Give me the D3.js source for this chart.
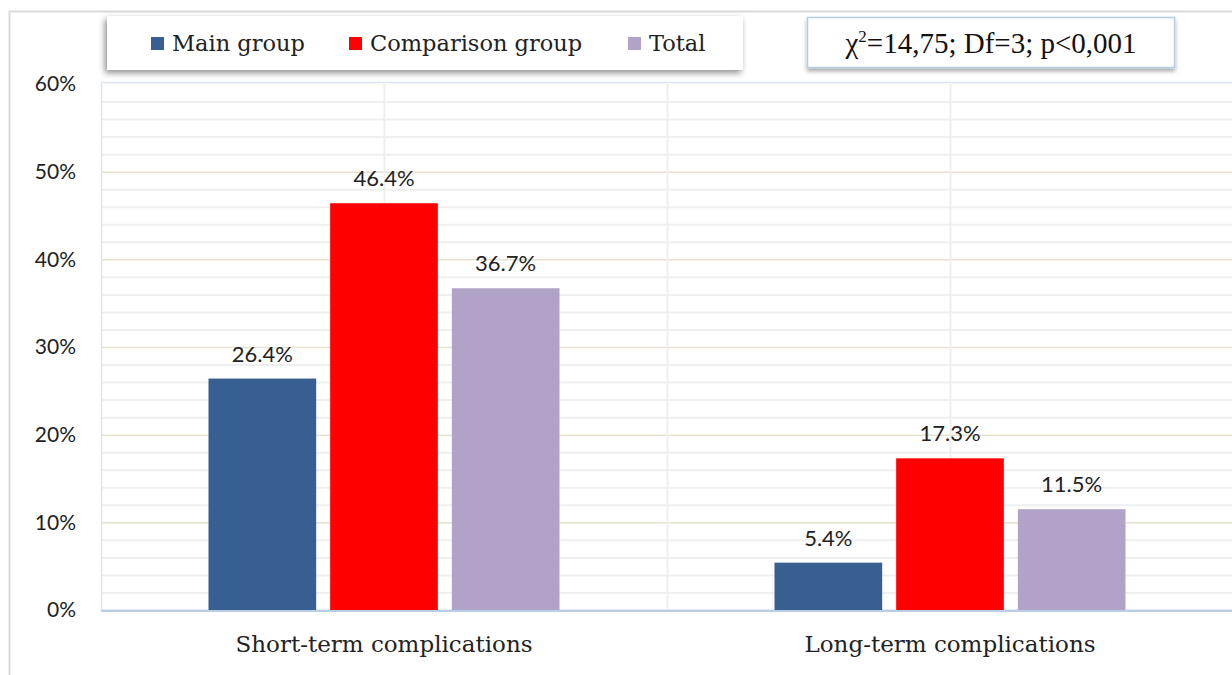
<!DOCTYPE html>
<html>
<head>
<meta charset="utf-8">
<script src="https://cdn.jsdelivr.net/npm/d3@7"></script>
<style>
  html, body { margin: 0; padding: 0; background: #fff; }
  svg { display: block; }
</style>
</head>
<body>
<svg id="chart" width="1232" height="675"></svg>
<script>
const categories = ["Short-term complications", "Long-term complications"];
const seriesNames = ["Main group", "Comparison group", "Total"];
const mainGroup = [26.4, 5.4];
const comparisonGroup = [46.4, 17.3];
const total = [36.7, 11.5];
const yTicks = [0, 10, 20, 30, 40, 50, 60];
const statText = "=14,75; Df=3; p<0,001";

const colors = ["#375f91", "#ff0000", "#b1a3c8"];
const series = [mainGroup, comparisonGroup, total];

const svg = d3.select("#chart");
const W = 1232, H = 675;
const plot = { left: 101, right: 1233, top: 84, bottom: 610 };

const defs = svg.append("defs");
const sh = defs.append("filter").attr("id", "shadow").attr("x", "-10%").attr("y", "-30%").attr("width", "120%").attr("height", "170%");
sh.append("feDropShadow").attr("dx", -2).attr("dy", 3).attr("stdDeviation", 3).attr("flood-color", "#000").attr("flood-opacity", 0.45);
const sh2 = defs.append("filter").attr("id", "shadow2").attr("x", "-10%").attr("y", "-30%").attr("width", "120%").attr("height", "170%");
sh2.append("feDropShadow").attr("dx", 0).attr("dy", 3).attr("stdDeviation", 2).attr("flood-color", "#000").attr("flood-opacity", 0.35);

// Outer frame
svg.append("rect").attr("x", 9.5).attr("y", 11.5).attr("width", W).attr("height", H)
  .attr("fill", "none").attr("stroke", "#d9d9d9").attr("stroke-width", 2);

const y = d3.scaleLinear().domain([0, 60]).range([plot.bottom, plot.top]);
const x0 = d3.scaleBand().domain(categories).range([plot.left, plot.right]).padding(0);
const x1 = d3.scaleBand().domain(seriesNames).range([0, 351]).paddingInner(0.115);

// Minor gridlines every 2%
const minor = d3.range(2, 60, 2).filter(v => v % 10 !== 0);
svg.append("g").selectAll("line").data(minor).join("line")
  .attr("x1", plot.left).attr("x2", plot.right)
  .attr("y1", d => y(d) + 0.5).attr("y2", d => y(d) + 0.5)
  .attr("stroke", "#efefef").attr("stroke-width", 2);

// Major gridlines every 10%
svg.append("g").selectAll("line").data(yTicks.filter(v => v > 0 && v < 60)).join("line")
  .attr("x1", plot.left).attr("x2", plot.right)
  .attr("y1", d => y(d) + 0.5).attr("y2", d => y(d) + 0.5)
  .attr("stroke", "#e6e2cf").attr("stroke-width", 1.5);

// Vertical gridlines at band centers and boundaries
const vlines = [];
categories.forEach(c => { vlines.push(x0(c) + x0.bandwidth() / 2); });
vlines.push(x0(categories[1]));
svg.append("g").selectAll("line").data(vlines).join("line")
  .attr("x1", d => d + 0.5).attr("x2", d => d + 0.5)
  .attr("y1", plot.top).attr("y2", plot.bottom)
  .attr("stroke", "#efefef").attr("stroke-width", 2);

// Plot area border
svg.append("rect").attr("x", plot.left + 0.5).attr("y", plot.top - 1.5)
  .attr("width", plot.right - plot.left).attr("height", plot.bottom - plot.top + 1.5)
  .attr("fill", "none").attr("stroke", "#dbe4f0").attr("stroke-width", 1.5);

// Bars
const barGroups = svg.append("g").selectAll("g").data(categories).join("g")
  .attr("transform", c => `translate(${x0(c) + (x0.bandwidth() - 351) / 2},0)`);

barGroups.selectAll("rect").data((c, i) => seriesNames.map((s, j) => ({ s, v: series[j][i], j })))
  .join("rect")
  .attr("x", d => x1(d.s)).attr("width", x1.bandwidth())
  .attr("y", d => y(d.v)).attr("height", d => y(0) - y(d.v))
  .attr("fill", d => colors[d.j]);

barGroups.selectAll("text").data((c, i) => seriesNames.map((s, j) => ({ s, v: series[j][i], j })))
  .join("text")
  .attr("x", d => x1(d.s) + x1.bandwidth() / 2)
  .attr("y", d => y(d.v) - 17)
  .attr("text-anchor", "middle")
  .attr("font-family", "Lato, 'Open Sans', sans-serif")
  .attr("font-size", 22).attr("fill", "#222")
  .text(d => d.v.toFixed(1) + "%");

// Baseline axis
svg.append("line").attr("x1", plot.left).attr("x2", plot.right)
  .attr("y1", plot.bottom + 1).attr("y2", plot.bottom + 1)
  .attr("stroke", "#b9cde5").attr("stroke-width", 2);

// Y axis labels
const yAxis = d3.axisLeft(y).tickValues(yTicks).tickSize(0).tickPadding(0).tickFormat(d => d + "%");
const yg = svg.append("g").attr("transform", `translate(76,0)`).call(yAxis);
yg.select(".domain").remove();
yg.selectAll("text").attr("font-family", "Lato, 'Open Sans', sans-serif").attr("font-size", 21).attr("fill", "#222");

// X axis labels
const xAxis = d3.axisBottom(x0).tickSize(0).tickPadding(0);
const xg = svg.append("g").attr("transform", `translate(0,${plot.bottom + 26})`).call(xAxis);
xg.select(".domain").remove();
xg.selectAll("text").attr("font-family", "'DejaVu Serif', serif").attr("font-size", 23).attr("fill", "#222");

// Legend
const legend = svg.append("g");
legend.append("rect").attr("x", 107).attr("y", 16).attr("width", 636).attr("height", 54)
  .attr("fill", "#fff").attr("filter", "url(#shadow)");
const legendX = [151, 349, 628];
const li = legend.selectAll("g.item").data(seriesNames).join("g").attr("class", "item")
  .attr("transform", (d, i) => `translate(${legendX[i]},0)`);
li.append("rect").attr("x", 0).attr("y", 37).attr("width", 13).attr("height", 13)
  .attr("fill", (d, i) => colors[i]);
li.append("text").attr("x", 21).attr("y", 51)
  .attr("font-family", "'DejaVu Serif', serif").attr("font-size", 22.5).attr("fill", "#222")
  .text(d => d);

// Statistic box
const stat = svg.append("g");
stat.append("rect").attr("x", 807.5).attr("y", 17.5).attr("width", 367).attr("height", 50)
  .attr("fill", "#fff").attr("stroke", "#b8cce4").attr("stroke-width", 1.5).attr("filter", "url(#shadow2)");
const st = stat.append("text").attr("x", 991).attr("y", 53).attr("text-anchor", "middle")
  .attr("font-family", "'Liberation Serif', 'Times New Roman', serif").attr("font-size", 29).attr("fill", "#111");
st.append("tspan").text("χ");
st.append("tspan").attr("font-size", 17).attr("dy", -11).text("2");
st.append("tspan").attr("dy", 11).text(statText);
</script>
</body>
</html>
